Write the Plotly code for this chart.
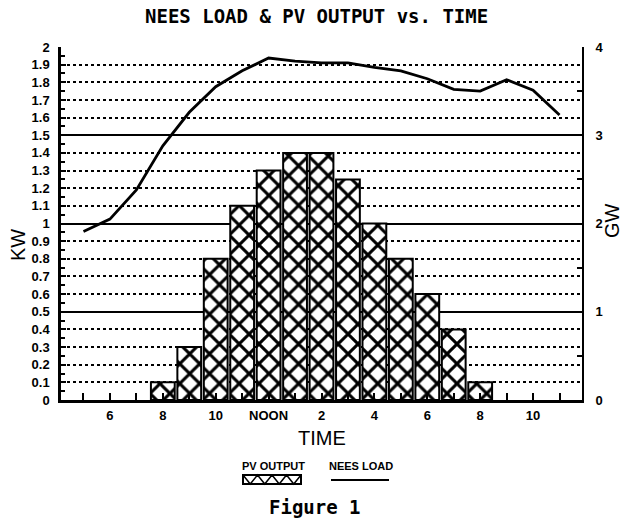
import plotly.graph_objects as go

# ---- data ----
bar_hours = [8, 9, 10, 11, 12, 13, 14, 15, 16, 17, 18, 19, 20]
pv_output_kw = [0.1, 0.3, 0.8, 1.1, 1.3, 1.4, 1.4, 1.25, 1.0, 0.8, 0.6, 0.4, 0.1]

load_hours = [5, 6, 7, 8, 9, 10, 11, 12, 13, 14, 15, 16, 17, 18, 19, 20, 21, 22, 23]
nees_load_gw = [1.91, 2.05, 2.38, 2.88, 3.26, 3.55, 3.73, 3.875, 3.84, 3.82, 3.82,
                3.77, 3.73, 3.64, 3.52, 3.50, 3.63, 3.51, 3.23]

x_tick_hours = list(range(5, 24))
x_tick_labels = ["", "6", "", "8", "", "10", "", "NOON", "", "2", "", "4", "", "6", "", "8", "", "10", ""]

kw_ticks = [round(i * 0.1, 1) for i in range(21)]
kw_labels = [("%g" % v) for v in kw_ticks]
gw_ticks = [0, 1, 2, 3, 4]
gw_labels = ["0", "1", "2", "3", "4"]

W, H = 623, 521
ML, MR, MT, MB = 61, 41, 47, 121
PW, PH = W - ML - MR, H - MT - MB


def px(x):
    return (x - ML) / PW


def py(y):
    return (H - MB - y) / PH


tick_font = dict(family="Liberation Sans", size=13, color="black", weight="bold")

fig = go.Figure()
fig.add_trace(go.Bar(
    x=bar_hours, y=pv_output_kw, width=0.9, name="PV OUTPUT",
    marker=dict(color="white", line=dict(color="black", width=2),
                pattern=dict(shape="x", fgcolor="black", fgopacity=1, bgcolor="white",
                             size=14, solidity=0.38)),
    showlegend=False,
))
fig.add_trace(go.Scatter(
    x=load_hours, y=nees_load_gw, yaxis="y2", mode="lines", name="NEES LOAD",
    line=dict(color="black", width=2.8), showlegend=False,
))
fig.add_trace(go.Scatter(x=[], y=[], yaxis="y3", showlegend=False, hoverinfo="skip"))
fig.add_trace(go.Scatter(x=[], y=[], yaxis="y4", showlegend=False, hoverinfo="skip"))

fig.update_layout(
    width=W, height=H,
    margin=dict(l=ML, r=MR, t=MT, b=MB, autoexpand=False),
    paper_bgcolor="white", plot_bgcolor="white",
    showlegend=False,
    xaxis=dict(range=[4.15, 23.85], tickmode="array", tickvals=x_tick_hours, ticktext=x_tick_labels,
               ticks="inside", ticklen=7, tickwidth=2, tickcolor="black",
               showline=True, linewidth=2.5, linecolor="black", showgrid=False, zeroline=False,
               tickfont=tick_font, ticklabelstandoff=2),
    yaxis=dict(range=[0, 2], tickmode="array", tickvals=kw_ticks, ticktext=kw_labels,
               ticks="inside", ticklen=5, tickwidth=2, tickcolor="black",
               minor=dict(tickmode="array", tickvals=[round(0.05 + 0.1 * i, 2) for i in range(20)],
                          ticks="inside", ticklen=4, tickwidth=1.5, tickcolor="black", showgrid=False),
               showline=True, linewidth=2.5, linecolor="black", showgrid=False, zeroline=False,
               tickfont=tick_font, ticklabelstandoff=6),
    yaxis3=dict(range=[0, 2], overlaying="y", anchor="x", tickmode="array",
                tickvals=[round(0.1 * i, 1) for i in range(1, 20)],
                showticklabels=False, ticks="", showline=False, zeroline=False,
                showgrid=True, gridcolor="black", gridwidth=2, griddash="dot"),
    yaxis2=dict(range=[0, 4], overlaying="y", side="right", anchor="x", tickmode="array",
                tickvals=gw_ticks, ticktext=gw_labels,
                ticks="inside", ticklen=6, tickwidth=2, tickcolor="black",
                minor=dict(tickmode="array", tickvals=[0.5, 1.5, 2.5, 3.5], ticks="inside",
                           ticklen=5, tickwidth=1.5, tickcolor="black", showgrid=False),
                showline=True, linewidth=2, linecolor="black", showgrid=False, zeroline=False,
                tickfont=tick_font, ticklabelstandoff=9),
    yaxis4=dict(range=[0, 4], overlaying="y", side="right", anchor="x", tickmode="array",
                tickvals=[1, 2, 3], showticklabels=False, ticks="", showline=False, zeroline=False,
                showgrid=True, gridcolor="black", gridwidth=2),
)

mono = dict(family="DejaVu Sans Mono", size=19, color="black", weight="bold")
sans = dict(family="Liberation Sans", size=20, color="black")
leg = dict(family="Liberation Sans", size=11, color="black", weight="bold")

annotations = [
    dict(text="NEES LOAD & PV OUTPUT vs. TIME", x=px(316), y=py(16), font=mono),
    dict(text="Figure 1", x=px(315), y=py(507), font=mono),
    dict(text="TIME", x=px(322), y=py(438), font=sans),
    dict(text="KW", x=px(18), y=py(245), font=sans, textangle=-90),
    dict(text="GW", x=px(612), y=py(221), font=sans, textangle=-90),
    dict(text="PV OUTPUT", x=px(273), y=py(466), font=leg),
    dict(text="NEES LOAD", x=px(361), y=py(466), font=leg),
]
for a in annotations:
    a.update(xref="paper", yref="paper", showarrow=False, xanchor="center", yanchor="middle")
fig.update_layout(annotations=annotations)

# custom legend swatches
x0, x1, yt, yb = 243, 301, 475, 484
zig = "M %f,%f" % (px(x0), py(yt))
n = 4
step = (x1 - x0) / n
for i in range(n):
    zig += " L %f,%f L %f,%f" % (px(x0 + step * (i + 0.5)), py(yb), px(x0 + step * (i + 1)), py(yt))
shapes = [
    dict(type="rect", xref="paper", yref="paper", x0=px(x0), x1=px(x1), y0=py(yb), y1=py(yt),
         line=dict(color="black", width=2), fillcolor="white"),
    dict(type="path", xref="paper", yref="paper", path=zig, line=dict(color="black", width=1.5)),
    dict(type="line", xref="paper", yref="paper", x0=px(331), x1=px(389), y0=py(480), y1=py(480),
         line=dict(color="black", width=2)),
]
fig.update_layout(shapes=shapes)

fig.write_html("out.html", config={"displayModeBar": False},
               post_script="document.body.style.margin='0px';document.body.style.overflow='hidden';")
